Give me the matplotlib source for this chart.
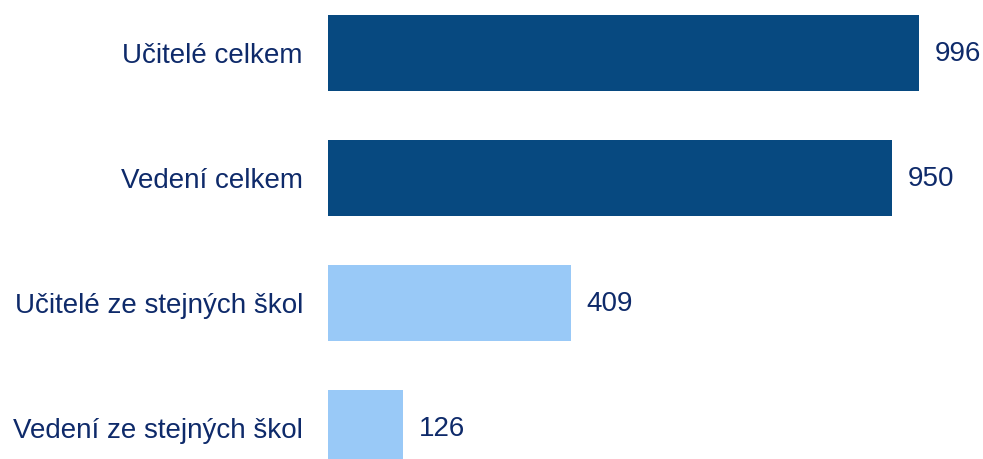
import matplotlib
matplotlib.use("Agg")
import matplotlib.pyplot as plt

# data
categories = ["Učitelé celkem", "Vedení celkem",
              "Učitelé ze stejných škol", "Vedení ze stejných škol"]
values = [996, 950, 409, 126]
bar_colors = ["#074980", "#074980", "#99C9F7", "#99C9F7"]

TEXT_COLOR = "#0E2A6A"

plt.rcParams["font.family"] = ["Liberation Sans", "DejaVu Sans"]

fig = plt.figure(figsize=(9.83, 4.59), dpi=100)
ax = fig.add_axes([328 / 983, 0, 655 / 983, 1])

ypos = list(range(len(categories)))
ax.barh(ypos, values, height=0.608, color=bar_colors)

ax.set_xlim(0, 1104)
ax.set_ylim(3.248, -0.424)

ax.set_yticks(ypos)
ax.set_yticklabels(categories, fontsize=20, color=TEXT_COLOR)
ax.tick_params(axis="y", length=0, pad=18)
ax.set_xticks([])
for spine in ax.spines.values():
    spine.set_visible(False)

for y, v in zip(ypos, values):
    ax.annotate(f"{v}", (v, y), xytext=(11.5, -1), textcoords="offset points",
                ha="left", va="center", fontsize=20, color=TEXT_COLOR)

fig.savefig("out.png", dpi=100, facecolor="white")
